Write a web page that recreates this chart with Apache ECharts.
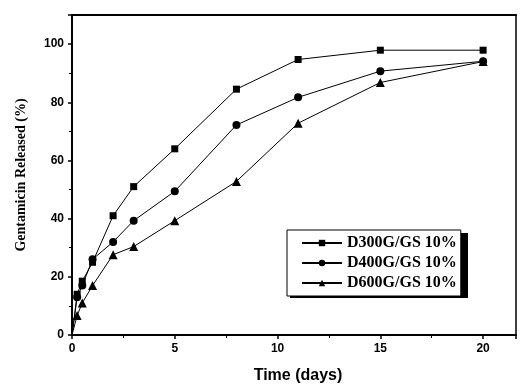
<!DOCTYPE html>
<html>
<head>
<meta charset="utf-8">
<script src="https://cdn.jsdelivr.net/npm/echarts@6/dist/echarts.min.js"></script>
<style>
html,body{margin:0;padding:0;background:#fff;}
#main{width:522px;height:385px;}
</style>
</head>
<body>
<div id="main"></div>
<script>
// 时间点 (days)
var days = [0, 0.25, 0.5, 1, 2, 3, 5, 8, 11, 15, 20];
var seriesNames = ['D300G/GS 10%', 'D400G/GS 10%', 'D600G/GS 10%'];
var d300 = [0, 14, 18.5, 25, 41, 51, 64, 84.5, 94.7, 97.9, 97.9];
var d400 = [0, 13, 17, 26, 32, 39.3, 49.4, 72.2, 81.7, 90.7, 94.1];
var d600 = [0, 6.7, 11, 17, 27.6, 30.4, 39.3, 52.8, 72.8, 86.8, 94];
var xTicks = [0, 5, 10, 15, 20];
var yTicks = [0, 20, 40, 60, 80, 100];

function pairs(vals) {
    return days.map(function (d, i) {
        // 原点不画标记
        if (d === 0) return {value: [d, vals[i]], symbol: 'none'};
        return [d, vals[i]];
    });
}

var labelFont = {color: '#000', fontFamily: 'Liberation Sans', fontWeight: 'bold', fontSize: 12};

function makeSeries(name, vals, symbol, size) {
    return {
        name: name,
        type: 'line',
        data: pairs(vals),
        symbol: symbol,
        symbolSize: size,
        showAllSymbol: true,
        itemStyle: {color: '#000'},
        lineStyle: {color: '#000', width: 1}
    };
}

var myChart = echarts.init(document.getElementById('main'));
var options = {
    animation: false,
    backgroundColor: '#fff',
    grid: {left: 72, top: 15, right: 6, bottom: 50, outerBoundsMode: 'none', containLabel: false},
    // 图例阴影
    graphic: [{
        type: 'rect',
        z: 0,
        shape: {x: 290, y: 233, width: 178, height: 65},
        style: {fill: '#000'}
    }],
    legend: {
        orient: 'vertical',
        left: 287,
        top: 230,
        z: 5,
        data: seriesNames,
        itemWidth: 40,
        itemHeight: 8,
        itemGap: 4,
        padding: [5, 4, 5, 14],
        backgroundColor: '#fff',
        borderColor: '#000',
        borderWidth: 1,
        textStyle: {color: '#000', fontFamily: 'Liberation Serif', fontWeight: 'bold', fontSize: 16}
    },
    xAxis: [{
        type: 'value',
        min: 0,
        max: 21.6,
        interval: 5,
        name: 'Time (days)',
        nameLocation: 'middle',
        nameGap: 33,
        nameTextStyle: {color: '#000', fontFamily: 'Liberation Sans', fontWeight: 'bold', fontSize: 16, padding: [0, 0, 0, 8]},
        axisLine: {onZero: false, lineStyle: {color: '#000', width: 2}},
        axisTick: {show: true, inside: false, length: 4, lineStyle: {color: '#000', width: 1.5}},
        minorTick: {show: true, splitNumber: 2, length: 3, lineStyle: {color: '#000'}},
        axisLabel: Object.assign({showMaxLabel: false, margin: 8,
            formatter: function (v) { return xTicks.indexOf(v) >= 0 ? v : ''; }}, labelFont),
        splitLine: {show: false}
    }, {
        type: 'value',
        position: 'top',
        min: 0,
        max: 21.6,
        axisLine: {onZero: false, lineStyle: {color: '#000', width: 2}},
        axisTick: {show: false},
        axisLabel: {show: false},
        splitLine: {show: false}
    }],
    yAxis: [{
        type: 'value',
        min: 0,
        max: 110,
        interval: 20,
        name: 'Gentamicin Released (%)',
        nameLocation: 'middle',
        nameGap: 44,
        nameRotate: 90,
        nameTextStyle: {color: '#000', fontFamily: 'Liberation Serif', fontWeight: 'bold', fontSize: 14},
        axisLine: {show: true, onZero: false, lineStyle: {color: '#000', width: 2}},
        axisTick: {show: true, inside: false, length: 4, lineStyle: {color: '#000', width: 1.5}},
        minorTick: {show: true, splitNumber: 2, length: 3, lineStyle: {color: '#000'}},
        axisLabel: Object.assign({showMaxLabel: false, margin: 8,
            formatter: function (v) { return yTicks.indexOf(v) >= 0 ? v : ''; }}, labelFont),
        splitLine: {show: false}
    }, {
        type: 'value',
        position: 'right',
        min: 0,
        max: 110,
        axisLine: {show: true, onZero: false, lineStyle: {color: '#000', width: 1.5}},
        axisTick: {show: false},
        axisLabel: {show: false},
        splitLine: {show: false}
    }],
    series: [
        makeSeries(seriesNames[0], d300, 'rect', 7),
        makeSeries(seriesNames[1], d400, 'circle', 8),
        makeSeries(seriesNames[2], d600, 'triangle', 9)
    ]
};
myChart.setOption(options);
</script>
</body>
</html>
